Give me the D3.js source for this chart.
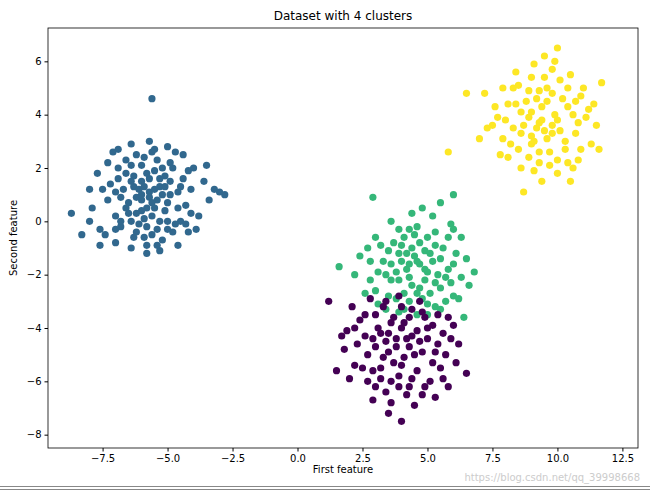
<!DOCTYPE html>
<html><head><meta charset="utf-8">
<script src="https://cdn.jsdelivr.net/npm/d3@7"></script>
<style>body{margin:0;background:#fff}text{font-family:"DejaVu Sans",sans-serif}</style>
</head><body><svg id="c" width="650" height="491"></svg>
<script>
const xTicks=[-7.5,-5,-2.5,0,2.5,5,7.5,10,12.5];
const yTicks=[-8,-6,-4,-2,0,2,4,6];
const colors=["#31688e","#35b779","#440154","#fde725"];
const blue=[[-5.6,4.6],[-8.7,0.3],[-2.8,1.0],[-3.0,1.1],[-8.3,-0.5],[-7.6,-0.9],[-7.3,2.2],[-6.9,2.7],[-6.4,2.9],[-5.7,3.0],[-5.0,2.8],[-4.4,2.5],[-4.0,2.0],[-3.6,1.5],[-3.4,0.8],[-3.8,0.2],[-4.2,-0.4],[-4.6,-0.9],[-5.3,-1.1],[-5.8,-1.2],[-6.4,-1.0],[-7.0,-0.8],[-7.6,-0.3],[-7.9,0.5],[-8.0,1.2],[-7.7,1.8],[-7.2,1.4],[-6.8,0.9],[-6.5,0.3],[-6.2,-0.4],[-5.9,0.1],[-5.5,0.5],[-5.2,1.0],[-4.9,1.5],[-4.6,1.1],[-4.3,0.6],[-5.0,0.0],[-5.4,-0.3],[-6.0,0.8],[-6.3,1.3],[-6.6,1.8],[-6.0,2.1],[-5.4,2.3],[-4.8,2.0],[-5.7,1.6],[-6.1,1.2],[-5.8,0.5],[-5.3,1.3],[-5.0,0.7],[-6.5,0.7],[-7.0,0.2],[-7.3,0.8],[-6.9,1.6],[-4.5,0.0],[-4.1,1.2],[-3.9,-0.3],[-5.6,2.6],[-6.2,2.5],[-6.8,-0.2],[-5.2,-0.7],[-4.8,-0.4],[-5.9,-0.6],[-6.4,0.0],[-5.5,1.9],[-4.7,2.6],[-7.4,-0.5],[-8.0,0.0],[-3.5,2.1],[-6.6,2.3],[-5.1,1.7],[-5.7,1.1],[-6.0,1.5],[-5.4,0.8],[-5.8,-0.2],[-4.4,1.6],[-6.3,-0.6],[-7.1,2.6],[-3.2,1.2],
[-5.7,0.9],[-5.5,1.2],[-5.9,1.3],[-6.2,0.9],[-6.0,0.4],[-5.6,0.2],[-5.1,0.4],[-4.9,1.0],[-5.3,1.6],[-5.8,1.8],[-6.3,1.7],[-6.7,1.2],[-6.6,0.5],[-6.1,-0.1],[-5.6,-0.5],[-5.0,-0.3],[-4.6,0.5],[-4.5,1.3],[-4.9,2.2],[-5.5,2.7],[-6.4,2.1],[-7.0,1.1],[-7.0,-0.3],[-5.3,0.0],[-5.6,0.7],[-6.0,1.0],[-5.2,2.0],[-4.2,1.9],[-7.5,1.2],[-6.8,0.0],[-5.4,-0.9],[-4.1,0.3],[-5.9,2.4],[-6.9,2.0],[-4.7,-0.1],[-5.1,1.3],[-6.4,1.5],[-6.2,0.3],[-5.8,-0.9],[-4.3,-0.1]];
const green=[[1.6,-1.7],[2.9,0.9],[6.0,1.0],[5.5,0.7],[4.8,0.5],[3.6,0.0],[3.0,-0.6],[2.4,-1.3],[2.2,-2.0],[2.6,-2.7],[3.1,-3.1],[3.9,-3.4],[4.6,-3.5],[5.3,-3.2],[6.0,-2.8],[6.3,-2.1],[6.5,-1.4],[6.3,-0.6],[5.9,-0.1],[5.2,0.2],[4.3,-0.3],[3.7,-0.8],[3.3,-1.5],[3.6,-2.2],[4.1,-2.7],[4.8,-2.9],[5.5,-2.5],[5.8,-1.8],[5.6,-1.0],[5.0,-0.6],[4.4,-1.0],[4.0,-1.5],[4.3,-2.1],[4.9,-2.2],[5.2,-1.5],[4.7,-1.6],[4.5,-1.3],[3.8,-1.9],[5.4,-2.0],[4.1,-0.6],[3.2,-0.9],[2.8,-2.2],[6.1,-1.2],[5.7,-3.0],[4.3,-3.0],[3.5,-2.8],[6.6,-2.4],[4.6,-0.2],[5.3,-0.9],[3.9,-1.2],[4.9,-1.1],[5.1,-2.7],[4.2,-1.8],[2.7,-1.0],[6.4,-3.6],[3.4,-3.3],[5.0,-3.5],[4.7,-2.5],[5.9,-2.3],[3.6,-1.6],[4.4,0.3],[6.8,-1.9],
[4.6,-1.5],[4.2,-1.2],[4.9,-1.8],[5.1,-1.2],[4.4,-2.4],[3.9,-2.2],[5.3,-2.3],[5.5,-1.4],[4.7,-0.8],[4.0,-0.9],[3.5,-1.1],[3.4,-2.0],[4.6,-2.7],[5.7,-2.1],[6.0,-1.6],[5.8,-0.6],[5.3,-0.4],[3.9,-0.3],[3.1,-1.9],[3.8,-2.9],[5.0,-3.1],[6.2,-2.9],[4.5,-0.5],[5.5,-3.3],[4.1,-3.3],[3.0,-2.6],[2.8,-1.5],[6.0,-0.3],[5.0,-1.9],[4.3,-1.6]];
const purple=[[4.0,-7.5],[3.5,-7.2],[1.5,-5.6],[1.2,-3.0],[5.8,-6.2],[2.1,-3.2],[2.8,-2.9],[3.9,-2.8],[4.7,-3.0],[5.4,-3.5],[6.0,-3.9],[6.2,-4.6],[6.1,-5.3],[5.6,-5.9],[4.9,-6.2],[4.2,-6.5],[3.4,-6.4],[2.7,-6.0],[2.2,-5.4],[1.8,-4.8],[1.9,-4.1],[2.4,-3.7],[3.0,-3.5],[3.6,-3.8],[4.3,-3.6],[5.0,-4.0],[5.4,-4.6],[5.2,-5.3],[4.6,-5.6],[3.9,-5.8],[3.2,-5.5],[2.7,-5.0],[2.6,-4.3],[3.2,-4.2],[3.8,-4.4],[4.4,-4.3],[4.8,-4.9],[4.1,-5.1],[3.5,-4.9],[3.0,-4.7],[4.3,-4.7],[3.7,-5.3],[4.9,-3.6],[2.3,-4.6],[5.7,-5.0],[5.1,-6.0],[3.0,-6.2],[2.0,-5.9],[4.5,-6.9],[3.3,-3.2],[5.6,-4.2],[4.0,-3.2],[2.9,-5.6],[6.5,-5.7],[1.7,-4.3],[4.6,-4.1],[3.4,-4.5],[4.0,-4.0],[3.6,-6.0],[5.3,-6.6],
[3.8,-4.7],[4.2,-4.4],[3.5,-4.2],[4.5,-5.0],[3.3,-5.1],[4.0,-5.4],[4.7,-4.5],[3.1,-4.0],[4.1,-3.8],[5.0,-4.4],[2.9,-4.4],[3.7,-3.6],[4.4,-5.9],[3.2,-5.9],[5.5,-5.5],[2.5,-5.5],[4.8,-3.4],[2.6,-3.5],[5.9,-4.4],[3.9,-6.2],[4.8,-6.5],[2.9,-6.7],[3.6,-6.8],[4.3,-6.2],[5.2,-3.9],[2.2,-4.0],[5.8,-3.6],[3.4,-3.0],[4.4,-3.3],[5.3,-4.9]];
const yellow=[[10.0,6.5],[5.8,2.6],[8.7,1.1],[6.5,4.8],[7.2,4.8],[7.9,3.1],[8.1,2.4],[8.6,2.0],[9.3,2.2],[10.0,1.8],[10.5,1.5],[10.8,2.3],[11.3,2.9],[11.5,3.6],[11.4,4.4],[11.0,5.0],[10.5,5.5],[9.8,5.7],[9.1,5.9],[8.4,5.6],[7.9,5.0],[7.6,4.3],[7.5,3.6],[8.0,3.8],[8.4,4.4],[8.9,4.9],[9.6,5.0],[10.2,4.6],[10.6,4.0],[10.7,3.3],[10.3,2.7],[9.7,2.6],[9.0,2.9],[8.6,3.3],[8.9,3.9],[9.4,4.3],[9.9,4.0],[10.1,3.4],[9.6,3.1],[9.2,3.5],[9.4,3.8],[9.8,3.6],[8.8,4.5],[9.3,4.9],[10.4,5.0],[10.9,4.7],[11.7,5.2],[8.2,2.9],[7.8,2.5],[9.9,6.0],[9.5,5.4],[7.3,3.5],[10.6,2.0],[11.1,3.9],[8.5,5.1],[9.0,3.2],[10.0,2.3],[7.0,3.1],[9.1,1.9],[11.6,2.7],
[9.3,3.7],[9.0,4.1],[9.6,4.5],[9.8,3.3],[9.1,3.0],[8.7,3.6],[9.5,3.4],[10.0,3.8],[10.4,4.3],[10.3,3.0],[8.5,2.7],[8.3,3.5],[8.6,4.1],[9.2,4.6],[9.8,4.8],[10.8,3.7],[10.9,2.7],[9.3,2.6],[8.9,2.4],[9.7,2.1],[10.4,2.2],[8.1,4.4],[8.3,5.0],[9.0,5.4],[10.1,5.3],[10.7,4.5],[11.2,4.2],[9.5,6.2],[9.4,1.5],[7.7,3.9]];
const clusters=[blue,green,purple,yellow];

const svg=d3.select("#c");
const L=48,R=638,T=28,B=448;
const x=d3.scaleLinear().domain([-9.6,13.1]).range([L,R]);
const y=d3.scaleLinear().domain([-8.5,7.25]).range([B,T]);
const fmtX=d=>(d<0?"\u2212":"")+Math.abs(d).toFixed(1);
const fmtY=d=>(d<0?"\u2212":"")+Math.abs(d);
svg.append("g").attr("transform",`translate(0,${B})`).call(d3.axisBottom(x).tickValues(xTicks).tickFormat(fmtX).tickSizeOuter(0).tickSize(3.5))
 .call(g=>{g.select(".domain").remove();g.selectAll("text").attr("font-size",10).attr("fill","#000");});
svg.append("g").attr("transform",`translate(${L},0)`).call(d3.axisLeft(y).tickValues(yTicks).tickFormat(fmtY).tickSizeOuter(0).tickSize(3.5))
 .call(g=>{g.select(".domain").remove();g.selectAll("text").attr("font-size",10).attr("fill","#000");});
clusters.forEach((pts,i)=>{
 svg.append("g").selectAll("circle").data(pts).join("circle")
  .attr("cx",d=>x(d[0])).attr("cy",d=>y(d[1])).attr("r",3.6).attr("fill",colors[i]);
});
svg.append("rect").attr("x",L).attr("y",T).attr("width",R-L).attr("height",B-T).attr("fill","none").attr("stroke","#000").attr("stroke-width",0.8);
svg.append("text").attr("x",(L+R)/2).attr("y",20).attr("text-anchor","middle").attr("font-size",12).text("Dataset with 4 clusters");
svg.append("text").attr("x",(L+R)/2).attr("y",473).attr("text-anchor","middle").attr("font-size",10).text("First feature");
svg.append("text").attr("transform",`translate(17,${(T+B)/2}) rotate(-90)`).attr("text-anchor","middle").attr("font-size",10).text("Second feature");
svg.append("text").attr("x",640).attr("y",481).attr("text-anchor","end").attr("font-size",10).attr("fill","#ccc").text("https://blog.csdn.net/qq_39998668");
svg.append("line").attr("x1",0).attr("x2",650).attr("y1",486.5).attr("y2",486.5).attr("stroke","#888");
svg.append("line").attr("x1",0).attr("x2",650).attr("y1",489.5).attr("y2",489.5).attr("stroke","#888");
</script></body></html>
